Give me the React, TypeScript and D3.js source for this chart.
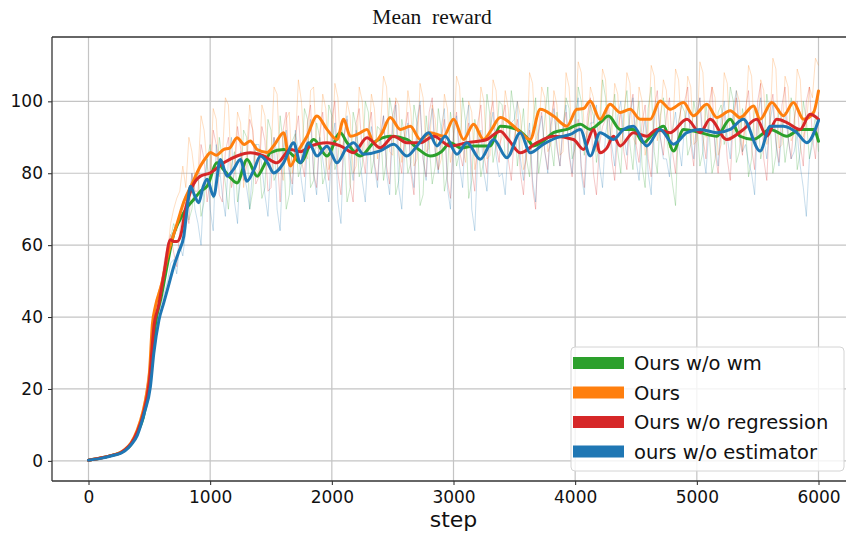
import React, { useEffect, useRef } from 'react';
import * as d3 from 'd3';

// smoothed curves: [step, mean reward]
const greenMean: [number, number][] = [
  [0, 0.2], [100, 0.8], [200, 1.6], [260, 2.2], [300, 3], [350, 4.6], [400, 7.8], [450, 12], [500, 21], [550, 38],
  [600, 46], [650, 55], [700, 63], [750, 67], [800, 70], [865, 72.7], [920, 75], [975, 76.4], [1057, 82.9], [1111, 81],
  [1160, 79], [1221, 77.3], [1303, 83.8], [1386, 79.2], [1440, 82], [1495, 85.7], [1604, 86.6], [1680, 85], [1741, 82.9],
  [1851, 89.4], [1960, 84.8], [2070, 91.3], [2125, 88.5], [2234, 84.8], [2344, 88.5], [2480, 90.3], [2617, 89.4],
  [2700, 87], [2809, 84.8], [2900, 86], [2974, 88.5], [3060, 87], [3165, 87.6], [3302, 87.6], [3384, 93.1], [3521, 92.2],
  [3600, 90], [3658, 87.6], [3740, 89], [3822, 91.3], [3932, 92.2], [4042, 93.6], [4123, 92.2], [4205, 94.1],
  [4274, 95.9], [4370, 92.2], [4479, 92.2], [4561, 88.5], [4640, 91], [4726, 93.1], [4808, 86.2], [4890, 92.2],
  [5027, 91.3], [5164, 90.3], [5274, 95], [5356, 90.3], [5466, 89.4], [5603, 92.2], [5740, 90.3], [5849, 92.2],
  [5959, 92.2], [6000, 88.9],
];
const orangeMean: [number, number][] = [
  [0, 0.2], [100, 0.8], [200, 1.6], [260, 2.3], [300, 3.2], [350, 5], [400, 8.5], [450, 14], [480, 19], [500, 24],
  [525, 38], [550, 43], [600, 49], [650, 57], [700, 63], [728, 66], [783, 72], [850, 77], [920, 82], [975, 84.8],
  [1002, 85.8], [1050, 85], [1110, 86.6], [1160, 87], [1221, 89.9], [1280, 88], [1330, 89], [1386, 86.6], [1468, 85.8],
  [1530, 88], [1604, 91.3], [1659, 82], [1720, 86], [1796, 90.3], [1878, 95.9], [1960, 92.2], [2043, 89.4], [2097, 95],
  [2152, 90.3], [2220, 91], [2289, 92.2], [2344, 88.5], [2410, 91], [2480, 95.5], [2563, 92.2], [2645, 93.1],
  [2727, 89.4], [2809, 91.3], [2919, 90.3], [3001, 95], [3083, 89.4], [3165, 93.6], [3247, 89.4], [3310, 92],
  [3384, 95.5], [3494, 93.1], [3560, 91], [3630, 89.4], [3713, 97.8], [3822, 95.9], [3932, 93.1], [4014, 97.8],
  [4070, 98], [4124, 100.1], [4205, 95], [4287, 99.2], [4370, 96.9], [4452, 97.8], [4534, 95], [4616, 95], [4698, 100.1],
  [4781, 97.8], [4890, 99.7], [4972, 96], [5082, 99.2], [5164, 95.5], [5274, 97.4], [5356, 95.5], [5466, 98.7],
  [5520, 95], [5616, 99.7], [5712, 96], [5794, 99.7], [5877, 95], [5959, 96.9], [6000, 102.9],
];
const redMean: [number, number][] = [
  [0, 0.2], [100, 0.8], [200, 1.6], [260, 2.2], [300, 3.1], [350, 4.8], [400, 8], [450, 13], [500, 22], [540, 38],
  [575, 43], [620, 52], [673, 61.5], [700, 61], [728, 61], [760, 63], [797, 70], [850, 76], [920, 79.2], [1002, 80.1],
  [1111, 82.9], [1221, 84.8], [1330, 85.7], [1440, 84.8], [1550, 82.9], [1659, 86.6], [1740, 86], [1823, 87.5],
  [1960, 88.5], [2070, 87.6], [2179, 85.7], [2289, 89.9], [2398, 87.1], [2508, 90.3], [2617, 88.5], [2727, 88.5],
  [2837, 90.3], [2974, 87.6], [3111, 88.5], [3275, 89.4], [3384, 91.7], [3460, 89], [3549, 85.7], [3685, 88.5],
  [3822, 90.3], [3986, 89.4], [4069, 86.6], [4151, 92.2], [4205, 85.7], [4260, 87], [4315, 90.3], [4370, 87.6],
  [4479, 91.3], [4589, 90.3], [4671, 92.2], [4781, 91.3], [4918, 95], [5027, 91.3], [5109, 95], [5246, 89.4],
  [5383, 92.2], [5493, 95], [5575, 90.3], [5657, 95], [5740, 94.1], [5849, 92.2], [5931, 96.4], [6000, 95],
];
const blueMean: [number, number][] = [
  [0, 0.2], [100, 0.7], [200, 1.5], [263, 2.1], [300, 2.8], [350, 4.5], [400, 7], [427, 9.6], [460, 13.5], [509, 20.7],
  [537, 30], [578, 39], [619, 44], [660, 49], [700, 54], [740, 58], [783, 62.5], [810, 70], [838, 76.4], [870, 74],
  [906, 71.8], [940, 76], [975, 78.3], [1029, 73.6], [1084, 83.8], [1139, 79.2], [1190, 81], [1248, 83.8], [1303, 77.8],
  [1360, 81], [1413, 84.8], [1470, 83], [1522, 80.1], [1604, 82.9], [1686, 88.5], [1741, 82.9], [1810, 88.5],
  [1878, 84.8], [1960, 87.5], [2043, 82.9], [2120, 87], [2179, 88.5], [2261, 85.3], [2398, 86.2], [2508, 88.1],
  [2617, 84.8], [2700, 87.6], [2796, 91.3], [2864, 87.6], [2932, 90.3], [3028, 85.3], [3111, 88.5], [3220, 83.9],
  [3330, 89.4], [3439, 84.3], [3549, 91.3], [3630, 85.7], [3740, 88.1], [3850, 89.9], [3959, 90.8], [4042, 92.2],
  [4124, 84.8], [4205, 91.3], [4315, 89.4], [4397, 92.2], [4479, 93.1], [4589, 87.6], [4698, 92.2], [4808, 88.1],
  [4918, 91.3], [5027, 92.2], [5164, 91.3], [5274, 92.2], [5383, 95], [5520, 86.2], [5603, 93.1], [5712, 93.1],
  [5821, 91.3], [5904, 88.5], [6000, 94.6],
];

// raw (unsmoothed) rewards, every 25 steps from 400 to 6000
const rawSteps = d3.range(400, 6001, 25);
const greenRaw = [
  8, 10, 13, 17, 23, 31, 40, 44, 47, 52, 57, 62, 66, 64, 68, 72, 74, 67, 70, 78,
  80, 68, 72, 84, 88, 73, 76, 90, 84, 77, 70, 82, 86, 72, 78, 92, 90, 70, 75, 88,
  85, 73, 76, 95, 92, 78, 80, 96, 88, 70, 74, 89, 91, 79, 82, 98, 95, 76, 78, 94,
  90, 77, 80, 99, 96, 81, 84, 94, 89, 72, 76, 97, 93, 79, 82, 100, 97, 80, 85, 93,
  92, 78, 84, 101, 96, 74, 78, 95, 90, 80, 83, 99, 94, 71, 74, 96, 88, 77, 82, 98,
  92, 75, 80, 97, 91, 82, 86, 101, 94, 73, 78, 95, 90, 79, 84, 102, 96, 83, 88, 100,
  99, 84, 86, 103, 97, 82, 90, 98, 84, 79, 93, 101, 80, 86, 95, 104, 88, 82, 97, 90,
  90, 101, 98, 84, 87, 104, 100, 85, 92, 99, 96, 83, 89, 106, 101, 87, 94, 102, 86, 80,
  97, 103, 88, 81, 94, 100, 82, 76, 98, 104, 86, 80, 96, 101, 90, 84, 77, 71, 94, 99,
  97, 85, 88, 100, 95, 82, 86, 99, 92, 80, 84, 97, 99, 88, 92, 104, 100, 83, 86, 98,
  93, 79, 84, 99, 97, 84, 88, 102, 96, 80, 85, 98, 94, 83, 89, 101, 97, 81, 86, 100,
  95, 84, 90, 96, 86,
];
const orangeRaw = [
  9, 12, 15, 20, 27, 36, 44, 47, 50, 54, 58, 66, 70, 73, 75, 82, 76, 90, 86, 79,
  80, 96, 92, 82, 78, 98, 95, 79, 84, 101, 99, 80, 82, 97, 94, 76, 86, 99, 92, 81,
  80, 99, 96, 82, 85, 104, 102, 83, 78, 95, 97, 80, 88, 106, 100, 86, 84, 103, 104, 87,
  87, 102, 98, 81, 84, 105, 101, 85, 90, 100, 96, 80, 82, 104, 100, 85, 86, 102, 98, 84,
  93, 107, 104, 86, 85, 101, 99, 83, 89, 103, 97, 82, 84, 105, 101, 86, 87, 99, 95, 81,
  84, 102, 98, 83, 88, 107, 104, 87, 83, 100, 97, 81, 86, 104, 100, 84, 85, 106, 103, 88,
  90, 103, 98, 85, 87, 100, 96, 81, 84, 108, 105, 89, 92, 104, 101, 86, 88, 103, 99, 85,
  86, 108, 104, 90, 93, 111, 108, 92, 90, 104, 101, 86, 94, 109, 106, 89, 90, 105, 102, 87,
  93, 108, 105, 90, 88, 104, 100, 85, 91, 110, 107, 89, 94, 106, 103, 87, 90, 109, 106, 91,
  92, 107, 104, 88, 89, 111, 108, 90, 93, 104, 101, 85, 88, 108, 105, 89, 91, 103, 100, 86,
  94, 110, 107, 89, 90, 106, 103, 88, 92, 112, 109, 87, 88, 107, 104, 89, 91, 109, 106, 90,
  93, 104, 101, 112, 110,
];
const redRaw = [
  8, 11, 14, 20, 26, 35, 42, 47, 50, 56, 60, 63, 58, 54, 64, 69, 72, 66, 80, 75,
  75, 88, 84, 72, 78, 92, 88, 74, 72, 86, 90, 76, 80, 93, 87, 78, 82, 95, 92, 77,
  79, 93, 89, 75, 76, 90, 85, 72, 92, 97, 81, 77, 90, 96, 84, 79, 94, 99, 80, 76,
  91, 97, 84, 78, 95, 100, 80, 74, 90, 95, 77, 72, 94, 98, 86, 80, 92, 97, 83, 78,
  90, 96, 82, 77, 96, 100, 85, 80, 92, 97, 80, 74, 93, 99, 84, 79, 97, 101, 86, 81,
  90, 95, 78, 73, 92, 97, 86, 82, 89, 94, 81, 75, 94, 99, 85, 80, 96, 100, 88, 83,
  95, 99, 84, 78, 90, 95, 80, 74, 87, 92, 76, 70, 92, 97, 86, 81, 95, 100, 87, 82,
  92, 97, 85, 79, 90, 95, 82, 76, 96, 101, 80, 74, 88, 93, 95, 99, 84, 78, 92, 97,
  86, 81, 97, 102, 88, 83, 94, 99, 84, 79, 98, 103, 90, 85, 96, 101, 86, 80, 94, 99,
  100, 104, 88, 82, 96, 101, 90, 84, 99, 104, 86, 80, 92, 97, 84, 78, 96, 101, 90, 85,
  98, 103, 87, 81, 100, 105, 84, 78, 97, 102, 89, 83, 99, 104, 90, 84, 95, 100, 88, 82,
  100, 104, 90, 84, 97,
];
const blueRaw = [
  7, 9, 12, 16, 22, 30, 37, 41, 44, 47, 50, 55, 56, 52, 60, 57, 64, 72, 80, 70,
  66, 60, 78, 84, 70, 64, 88, 82, 74, 68, 84, 90, 72, 66, 86, 80, 76, 70, 82, 88,
  88, 82, 74, 68, 84, 90, 70, 64, 86, 92, 80, 74, 92, 86, 78, 72, 89, 95, 80, 74,
  90, 84, 78, 72, 88, 94, 72, 66, 90, 96, 84, 78, 92, 86, 78, 72, 87, 93, 82, 76,
  90, 96, 80, 74, 93, 99, 76, 70, 88, 94, 82, 76, 95, 100, 84, 78, 92, 98, 86, 80,
  93, 98, 76, 70, 90, 96, 82, 76, 94, 99, 70, 64, 86, 92, 80, 75, 92, 97, 85, 79,
  80, 74, 88, 94, 95, 100, 84, 78, 88, 94, 78, 72, 91, 96, 86, 80, 93, 98, 88, 82,
  94, 99, 86, 80, 96, 101, 80, 74, 88, 94, 94, 99, 82, 76, 91, 96, 88, 82, 96, 100,
  90, 85, 96, 101, 84, 78, 90, 95, 80, 74, 95, 100, 90, 84, 84, 79, 92, 97, 88, 82,
  94, 99, 90, 84, 96, 101, 86, 80, 93, 98, 88, 82, 95, 100, 90, 84, 98, 103, 92, 86,
  88, 83, 80, 74, 96, 101, 90, 84, 94, 99, 88, 82, 92, 97, 90, 84, 86, 91, 82, 76,
  68, 84, 88, 93, 96,
];

const seriesNames = ['Ours w/o wm', 'Ours', 'Ours w/o regression', 'ours w/o estimator'];
const seriesColors = ['#2ca02c', '#ff7f0e', '#d62728', '#1f77b4'];
const seriesMeans = [greenMean, orangeMean, redMean, blueMean];
const seriesRaw = [greenRaw, orangeRaw, redRaw, blueRaw];
const xTicks = [0, 1000, 2000, 3000, 4000, 5000, 6000];
const yTicks = [0, 20, 40, 60, 80, 100];

const App = () => {
  const ref = useRef<SVGSVGElement>(null);

  useEffect(() => {
    const width = 846;
    const height = 537;
    const left = 52, right = 855, top = 37, bottom = 481;

    const svg = d3.select(ref.current);
    svg.selectAll('*').remove();

    const x = d3.scaleLinear().domain([-300, 6300]).range([left, right]);
    const y = d3.scaleLinear().domain([-5.6, 117.9]).range([bottom, top]);

    svg.append('rect').attr('width', width).attr('height', height).attr('fill', '#fff');

    svg.append('defs').append('clipPath').attr('id', 'plot-clip')
      .append('rect').attr('x', left).attr('y', top)
      .attr('width', right - left).attr('height', bottom - top);

    // grid
    const grid = svg.append('g').attr('stroke', '#c4c4c4').attr('stroke-width', 1.2);
    xTicks.forEach((t) => {
      grid.append('line').attr('x1', x(t)).attr('x2', x(t)).attr('y1', top).attr('y2', bottom);
    });
    yTicks.forEach((t) => {
      grid.append('line').attr('x1', left).attr('x2', right).attr('y1', y(t)).attr('y2', y(t));
    });

    const plot = svg.append('g').attr('clip-path', 'url(#plot-clip)');

    // raw noisy lines
    const rawLine = d3.line<number>()
      .x((_, i) => x(rawSteps[i]))
      .y((d) => y(d));
    seriesRaw.forEach((vals, k) => {
      plot.append('path')
        .attr('d', rawLine(vals))
        .attr('fill', 'none')
        .attr('stroke', seriesColors[k])
        .attr('stroke-opacity', 0.25)
        .attr('stroke-width', 1);
    });

    // smoothed lines
    const meanLine = d3.line<[number, number]>()
      .x((d) => x(d[0]))
      .y((d) => y(d[1]))
      .curve(d3.curveMonotoneX);
    seriesMeans.forEach((pts, k) => {
      plot.append('path')
        .attr('d', meanLine(pts))
        .attr('fill', 'none')
        .attr('stroke', seriesColors[k])
        .attr('stroke-width', 3)
        .attr('stroke-linejoin', 'round')
        .attr('stroke-linecap', 'round');
    });

    // axes
    const xAxis = svg.append('g')
      .attr('transform', `translate(0,${bottom})`)
      .call(d3.axisBottom(x).tickValues(xTicks).tickSize(4).tickPadding(6).tickFormat(d3.format('d')));
    const yAxis = svg.append('g')
      .attr('transform', `translate(${left},0)`)
      .call(d3.axisLeft(y).tickValues(yTicks).tickSize(4).tickPadding(5).tickFormat(d3.format('d')));
    [xAxis, yAxis].forEach((g) => {
      g.select('.domain').remove();
      g.selectAll('line').attr('stroke', '#222').attr('stroke-width', 1);
      g.selectAll('text')
        .attr('font-family', 'DejaVu Sans')
        .attr('font-size', 17)
        .attr('fill', '#111');
    });

    // spines
    svg.append('line').attr('x1', left).attr('x2', left).attr('y1', top).attr('y2', bottom)
      .attr('stroke', '#333').attr('stroke-width', 1.3);
    svg.append('line').attr('x1', left).attr('x2', width).attr('y1', bottom).attr('y2', bottom)
      .attr('stroke', '#333').attr('stroke-width', 1.3);
    svg.append('line').attr('x1', left).attr('x2', width).attr('y1', top).attr('y2', top)
      .attr('stroke', '#333').attr('stroke-width', 1.3);

    // title & x label
    svg.append('text')
      .attr('x', 432).attr('y', 24)
      .attr('text-anchor', 'middle')
      .attr('font-family', 'Liberation Serif, serif')
      .attr('font-size', 21.5)
      .attr('fill', '#111')
      .style('white-space', 'pre')
      .text('Mean  reward');
    svg.append('text')
      .attr('x', (left + right) / 2).attr('y', 527)
      .attr('text-anchor', 'middle')
      .attr('font-family', 'DejaVu Sans')
      .attr('font-size', 22)
      .attr('fill', '#111')
      .text('step');

    // legend
    const lg = svg.append('g');
    lg.append('rect')
      .attr('x', 571).attr('y', 347).attr('width', 273).attr('height', 124)
      .attr('rx', 4)
      .attr('fill', '#fff').attr('fill-opacity', 0.8)
      .attr('stroke', '#d4d4d4').attr('stroke-width', 1);
    const rowY = d3.scaleLinear().domain([0, 3]).range([363, 451.5]);
    seriesNames.forEach((name, k) => {
      lg.append('rect')
        .attr('x', 573).attr('y', rowY(k) - 6).attr('width', 51).attr('height', 12)
        .attr('fill', seriesColors[k]);
      lg.append('text')
        .attr('x', 634).attr('y', rowY(k) + 7)
        .attr('font-family', 'DejaVu Sans')
        .attr('font-size', 19.5)
        .attr('fill', '#111')
        .text(name);
    });
  }, []);

  return (
    <svg
      ref={ref}
      width={846}
      height={537}
      style={{ position: 'absolute', left: 0, top: 0 }}
    />
  );
};

export default App;
